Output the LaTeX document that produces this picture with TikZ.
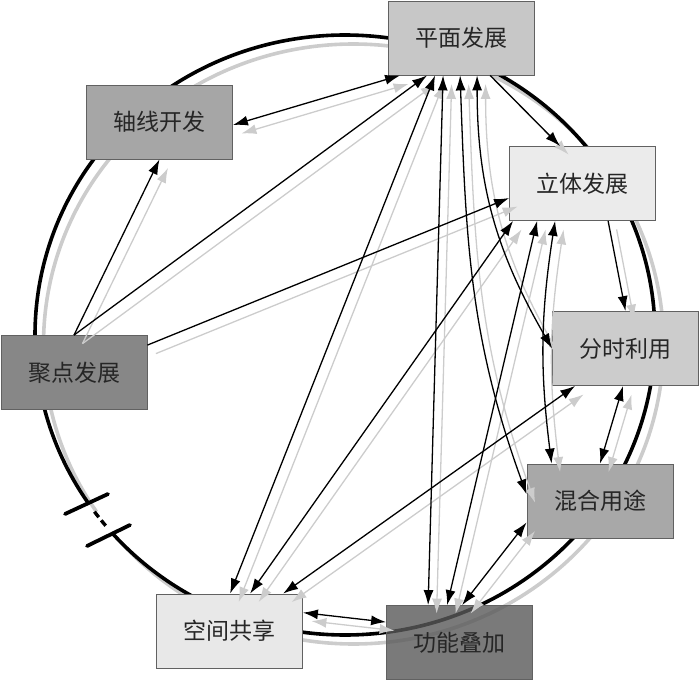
\documentclass[tikz,border=0pt]{standalone}
\usepackage{fontspec}
\newfontfamily\cjk{Noto Sans CJK SC}
\usetikzlibrary{arrows.meta,calc}
\definecolor{shadowgray}{gray}{0.8}
\definecolor{cP}{gray}{0.78}
\definecolor{cZ}{gray}{0.65}
\definecolor{cL}{gray}{0.92}
\definecolor{cJ}{gray}{0.53}
\definecolor{cF}{gray}{0.80}
\definecolor{cH}{gray}{0.66}
\definecolor{cK}{gray}{0.91}
\definecolor{cG}{gray}{0.35}
\newcommand\ringpath{%
  \draw[ring] (345,346) ++(221.2:310 and 300) arc[start angle=221.2,end angle=574,x radius=310,y radius=300];%
}
\newcommand\myconnectors{%
  \draw[biarrow] ([yshift=-3pt]Z.east) -- ([xshift=12pt]P.south west);
  \draw[onearrow] (J.north) -- (Z.south);
  \draw[onearrow] (J.north) -- ([xshift=39pt]P.south west);
  \draw[onearrow] ([yshift=-10pt]J.north east) -- ([yshift=-14.5pt]L.west);
  \draw[biarrow] ([xshift=74pt]K.north west) -- ([xshift=47pt]P.south west);
  \draw[biarrow] ([xshift=94pt]K.north west) -- ([xshift=4pt]L.south west);
  \draw[biarrow] ([xshift=127pt]K.north west) -- ([xshift=23pt]F.south west);
  \draw[biarrow] ([yshift=-19pt]K.north east) -- ([yshift=-17pt]G.north west);
  \draw[biarrow] ([xshift=42pt]G.north west) -- ([xshift=55pt]P.south west);
  \draw[biarrow] ([xshift=61pt]G.north west) -- ([xshift=28pt]L.south west);
  \draw[biarrow] ([xshift=76pt]G.north west) -- ([yshift=16pt]H.south west);
  \draw[biarrow] ([xshift=72pt]P.south west) to[out=-88,in=110] ([yshift=44pt]H.south west);
  \draw[biarrow] ([xshift=89pt]P.south west) to[out=-90,in=120] (F.west);
  \draw[onearrow] ([xshift=102pt]P.south west) -- ([xshift=51pt]L.north west);
  \draw[onearrow] ([xshift=99pt]L.south west) -- (F.north);
  \draw[biarrow] ([xshift=46pt]L.south west) to[bend right=8] ([xshift=25pt]H.north west);
  \draw[biarrow] ([xshift=71pt]F.south west) -- (H.north);
}
\begin{document}
\begin{tikzpicture}[x=1pt,y=1pt,
  box/.style={draw=black!62, line width=0.8pt, minimum width=146pt, minimum height=74pt,
    inner sep=0pt, font=\cjk\fontsize{23pt}{23pt}\selectfont, text=black!85},
  ring/.style={line width=3.6pt},
  onearrow/.style={line width=1.3pt, -{Latex[length=15pt,width=10pt]}},
  biarrow/.style={line width=1.3pt, {Latex[length=15pt,width=10pt]}-{Latex[length=15pt,width=10pt]}},
  tick/.style={line width=3.8pt, line cap=round}]
\useasboundingbox (0,0) rectangle (700,681);
% ring shadow and ring
\begin{scope}[transform canvas={shift={(8.5pt,-9pt)}}, color=shadowgray]
  \ringpath
\end{scope}
\ringpath
\draw[line width=3.4pt, dash pattern=on 0pt off 11pt on 7pt off 4pt on 7pt off 30pt]
  (345,346) ++(214:310 and 300) arc[start angle=214,end angle=221.2,x radius=310,y radius=300];
\draw[tick] (65,167) -- (108,187);
\draw[tick] (87,135) -- (130,156);
% boxes
\node[box, fill=cP] (P) at (461.5,643) {平面发展};
\node[box, fill=cZ] (Z) at (159.5,559) {轴线开发};
\node[box, fill=cL] (L) at (582.5,497.5) {立体发展};
\node[box, fill=cJ] (J) at (74,308.5) {聚点发展};
\node[box, fill=cF] (F) at (625.5,332.5) {分时利用};
\node[box, fill=cH] (H) at (600,180) {混合用途};
\node[box, fill=cK] (K) at (229.5,50) {空间共享};
\node[box, fill=cG, fill opacity=0.8, text opacity=1] (G) at (459.5,38.5) {功能叠加};
% connector shadows
\begin{scope}[transform canvas={shift={(8.5pt,-8.5pt)}}, color=shadowgray]
  \myconnectors
\end{scope}
% connectors
\myconnectors
\end{tikzpicture}
\end{document}
